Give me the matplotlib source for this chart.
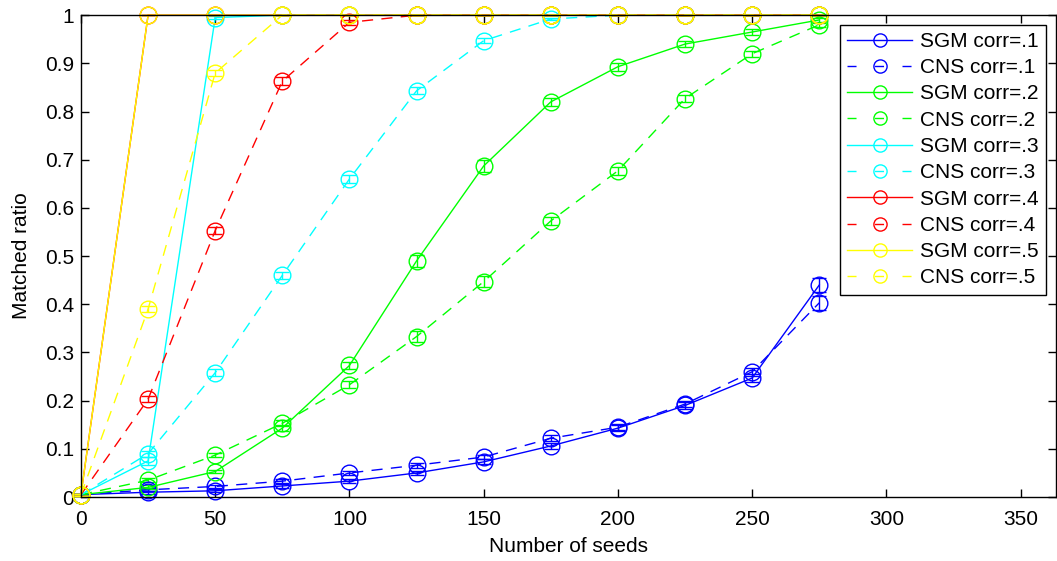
import matplotlib
matplotlib.use("Agg")
import matplotlib.pyplot as plt
from matplotlib.lines import Line2D

plt.rcParams['font.family'] = ['Liberation Sans', 'DejaVu Sans']

seeds = [0, 25, 50, 75, 100, 125, 150, 175, 200, 225, 250, 275]

sgm_1 = [0.005, 0.010, 0.013, 0.023, 0.033, 0.050, 0.073, 0.106, 0.143, 0.190, 0.247, 0.440]
cns_1 = [0.005, 0.015, 0.022, 0.033, 0.050, 0.066, 0.083, 0.122, 0.145, 0.193, 0.260, 0.403]
sgm_2 = [0.005, 0.020, 0.053, 0.143, 0.273, 0.490, 0.687, 0.820, 0.893, 0.940, 0.965, 0.990]
cns_2 = [0.005, 0.035, 0.087, 0.153, 0.233, 0.333, 0.447, 0.573, 0.677, 0.827, 0.920, 0.980]
sgm_3 = [0.005, 0.075, 0.995, 1.000, 1.000, 1.000, 1.000, 1.000, 1.000, 1.000, 1.000, 1.000]
cns_3 = [0.005, 0.090, 0.258, 0.460, 0.660, 0.843, 0.947, 0.992, 1.000, 1.000, 1.000, 1.000]
sgm_4 = [0.005, 1.000, 1.000, 1.000, 1.000, 1.000, 1.000, 1.000, 1.000, 1.000, 1.000, 1.000]
cns_4 = [0.005, 0.203, 0.553, 0.863, 0.985, 1.000, 1.000, 1.000, 1.000, 1.000, 1.000, 1.000]
sgm_5 = [0.005, 1.000, 1.000, 1.000, 1.000, 1.000, 1.000, 1.000, 1.000, 1.000, 1.000, 1.000]
cns_5 = [0.005, 0.390, 0.880, 1.000, 1.000, 1.000, 1.000, 1.000, 1.000, 1.000, 1.000, 1.000]

err_1 = [0.002, 0.003, 0.003, 0.004, 0.004, 0.005, 0.005, 0.006, 0.006, 0.007, 0.008, 0.015]
err_2 = [0.002, 0.004, 0.004, 0.006, 0.007, 0.012, 0.012, 0.009, 0.008, 0.007, 0.006, 0.004]
err_3 = [0.002, 0.008, 0.003, 0.000, 0.000, 0.000, 0.000, 0.000, 0.000, 0.000, 0.000, 0.000]
err_c3 = [0.002, 0.006, 0.007, 0.008, 0.008, 0.007, 0.005, 0.003, 0.000, 0.000, 0.000, 0.000]
err_c4 = [0.002, 0.006, 0.008, 0.008, 0.005, 0.000, 0.000, 0.000, 0.000, 0.000, 0.000, 0.000]
err_c5 = [0.002, 0.007, 0.007, 0.000, 0.000, 0.000, 0.000, 0.000, 0.000, 0.000, 0.000, 0.000]
err_0 = [0.002] + [0.0] * 11

series = [
    ("SGM corr=.1", sgm_1, err_1, 'blue', '-'),
    ("CNS corr=.1", cns_1, err_1, 'blue', '--'),
    ("SGM corr=.2", sgm_2, err_2, 'lime', '-'),
    ("CNS corr=.2", cns_2, err_2, 'lime', '--'),
    ("SGM corr=.3", sgm_3, err_3, 'cyan', '-'),
    ("CNS corr=.3", cns_3, err_c3, 'cyan', '--'),
    ("SGM corr=.4", sgm_4, err_0, 'red', '-'),
    ("CNS corr=.4", cns_4, err_c4, 'red', '--'),
    ("SGM corr=.5", sgm_5, err_0, '#ffff00', '-'),
    ("CNS corr=.5", cns_5, err_c5, '#ffff00', '--'),
]

xticks = [0, 50, 100, 150, 200, 250, 300, 350]
yticks = [0, 0.1, 0.2, 0.3, 0.4, 0.5, 0.6, 0.7, 0.8, 0.9, 1]
ytick_labels = ['0', '0.1', '0.2', '0.3', '0.4', '0.5', '0.6', '0.7', '0.8', '0.9', '1']

FS = 15
DASH = (8, 6)
LEG_DASH = (6.5, 13.3)

fig = plt.figure(figsize=(10.57, 5.61), dpi=100)
ax = fig.add_axes([0.0766, 0.114, 0.922, 0.859])

handles = []
for label, vals, err, color, ls in series:
    ebar = ax.errorbar(seeds, vals, yerr=err, color=color, linestyle=ls, linewidth=1.0,
                       marker='o', markersize=12, markerfacecolor='none', markeredgecolor=color,
                       markeredgewidth=1.0, capsize=5, elinewidth=1.0, capthick=1.0,
                       clip_on=False)
    h = Line2D([], [], color=color, linestyle=ls, linewidth=1.0, marker='o', markersize=9.5,
               markerfacecolor='none', markeredgecolor=color, markeredgewidth=1.0, label=label)
    if ls == '--':
        ebar[0].set_dashes(DASH)
        h.set_dashes(LEG_DASH)
    handles.append(h)

ax.set_xlim(0, 363)
ax.set_ylim(0, 1)
ax.set_xticks(xticks)
ax.set_yticks(yticks)
ax.set_yticklabels(ytick_labels)
ax.tick_params(direction='in', top=True, right=True, labelsize=FS, length=6, width=1)
ax.tick_params(axis='x', pad=9)
ax.tick_params(axis='y', pad=5)
for s in ax.spines.values():
    s.set_linewidth(1.0)
ax.set_xlabel("Number of seeds", fontsize=FS, labelpad=6)
ax.set_ylabel("Matched ratio", fontsize=FS, labelpad=10)

leg = ax.legend(handles=handles, loc='upper right', fontsize=FS, frameon=True, fancybox=False,
                edgecolor='black', framealpha=1, borderaxespad=0.45, handlelength=3.1,
                labelspacing=0.35, borderpad=0.35, handletextpad=0.4)
leg.get_frame().set_linewidth(1.0)

fig.savefig("out.png", dpi=100)
